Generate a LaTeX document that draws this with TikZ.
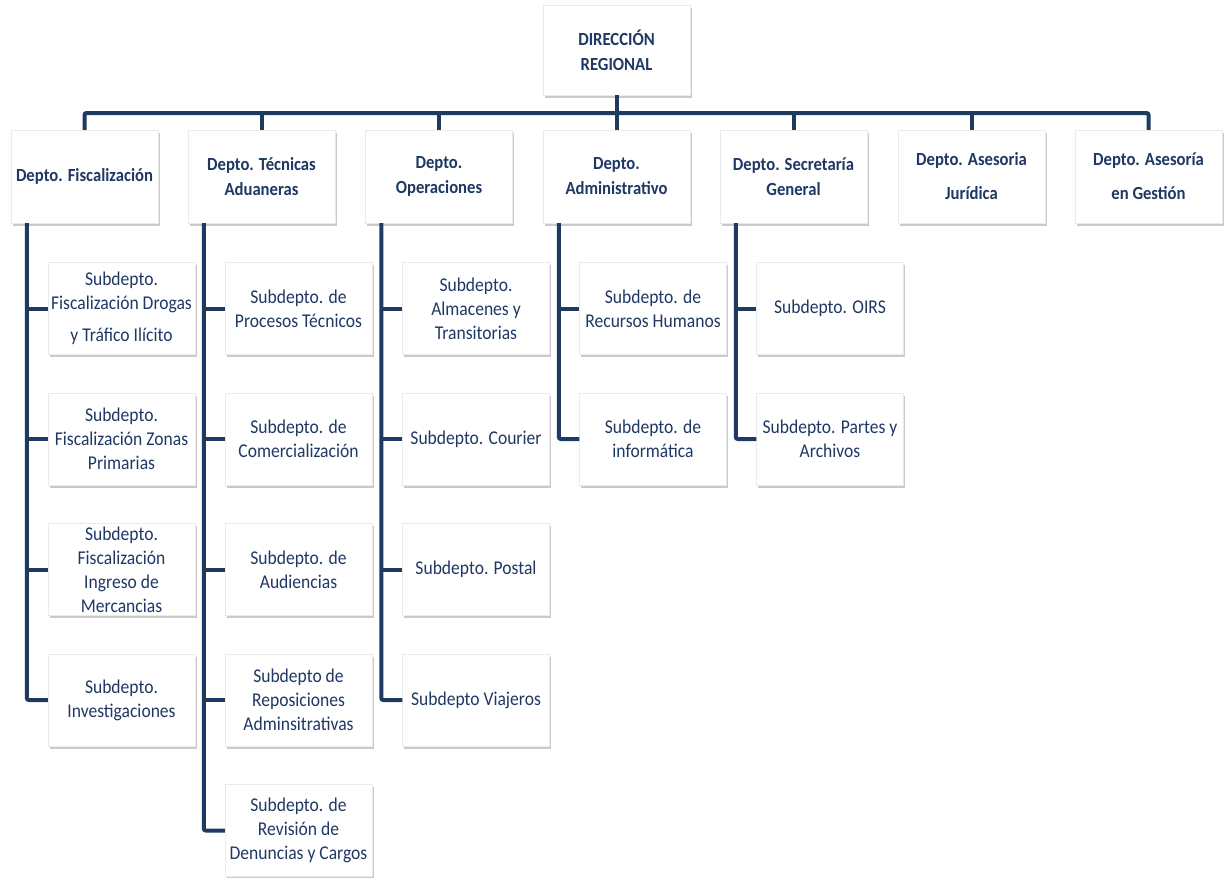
\documentclass[tikz,border=0pt]{standalone}
\usepackage{fontspec}
\setmainfont{Carlito}[FakeStretch=0.9]
\usepackage{tikz}
\usetikzlibrary{shadows}
\definecolor{orgblue}{HTML}{1F3864}
\definecolor{linkblue}{HTML}{1F3A60}

\tikzset{
  unitbox/.style={draw=black!8, fill=white, text=orgblue, minimum width=147pt, align=center, inner sep=1pt,
    drop shadow={shadow xshift=1.5pt, shadow yshift=-2.5pt, opacity=0.35, fill=black!60}},
  deptbox/.style={unitbox, minimum height=93pt, font=\fontsize{18.5}{25}\selectfont\bfseries},
  subbox/.style={unitbox, minimum height=92pt, font=\fontsize{19.5}{24}\selectfont},
  link/.style={draw=linkblue, line width=4pt, rounded corners=2pt}
}

\begin{document}
\begin{tikzpicture}[x=1pt,y=-1pt]
\useasboundingbox (0,0) rectangle (1227,878);
% direccion y departamentos
  \node[deptbox, minimum height=90pt] (dir) at (616.5,50) {DIRECCIÓN\\REGIONAL};
  \node[deptbox] (fisc) at (84.5,176.5) {Depto. Fiscalización};
  \node[deptbox] (tec) at (261.5,176.5) {Depto. Técnicas\\Aduaneras};
  \node[deptbox] (oper) at (439,176.5) {Depto.\\Operaciones};
  \node[deptbox] (adm) at (616.5,176.5) {Depto.\\Administrativo};
  \node[deptbox] (secr) at (793.5,176.5) {Depto. Secretaría\\General};
  \node[deptbox] (jur) at (971.5,176.5) {Depto. Asesoria\\[9pt]Jurídica};
  \node[deptbox] (gest) at (1148.5,176.5) {Depto. Asesoría\\[9pt]en Gestión};
% subdeptos fiscalizacion
  \node[subbox] (f1) at (121.5,308.5) {Subdepto.\\Fiscalización Drogas\\[8pt]y Tráfico Ilícito};
  \node[subbox] (f2) at (121.5,439) {Subdepto.\\Fiscalización Zonas\\Primarias};
  \node[subbox] (f3) at (121.5,569.5) {Subdepto.\\Fiscalización\\Ingreso de\\Mercancias};
  \node[subbox] (f4) at (121.5,700) {Subdepto.\\Investigaciones};
% subdeptos tecnicas aduaneras
  \node[subbox] (t1) at (298.5,308.5) {Subdepto. de\\Procesos Técnicos};
  \node[subbox] (t2) at (298.5,439) {Subdepto. de\\Comercialización};
  \node[subbox] (t3) at (298.5,569.5) {Subdepto. de\\Audiencias};
  \node[subbox] (t4) at (298.5,700) {Subdepto de\\Reposiciones\\Adminsitrativas};
  \node[subbox] (t5) at (298.5,830.5) {Subdepto. de\\Revisión de\\Denuncias y Cargos};
% subdeptos operaciones
  \node[subbox] (o1) at (476,308.5) {Subdepto.\\Almacenes y\\Transitorias};
  \node[subbox] (o2) at (476,439) {Subdepto. Courier};
  \node[subbox] (o3) at (476,569.5) {Subdepto. Postal};
  \node[subbox] (o4) at (476,700) {Subdepto Viajeros};
% subdeptos administrativo y secretaria
  \node[subbox] (a1) at (653,308.5) {Subdepto. de\\Recursos Humanos};
  \node[subbox] (a2) at (653,439) {Subdepto. de\\informática};
  \node[subbox] (s1) at (830,308.5) {Subdepto. OIRS};
  \node[subbox] (s2) at (830,439) {Subdepto. Partes y\\Archivos};
% conectores
  \coordinate (bar) at (616.5,113);
  \draw[link] (fisc.north) |- (bar) -| (gest.north);
  \draw[link] (dir.south) -- (adm.north);
  \draw[link] (tec.north) -- (tec.north |- bar);
  \draw[link] (oper.north) -- (oper.north |- bar);
  \draw[link] (secr.north) -- (secr.north |- bar);
  \draw[link] (jur.north) -- (jur.north |- bar);
  \coordinate (fisctrunk) at ([xshift=16pt]fisc.south west);
  \coordinate (tectrunk) at ([xshift=16pt]tec.south west);
  \coordinate (opertrunk) at ([xshift=16pt]oper.south west);
  \coordinate (admtrunk) at ([xshift=16pt]adm.south west);
  \coordinate (secrtrunk) at ([xshift=16pt]secr.south west);
  \draw[link] (fisctrunk) |- (f4.west);
  \draw[link] (f1.west) -- (f1.west -| fisctrunk);
  \draw[link] (f2.west) -- (f2.west -| fisctrunk);
  \draw[link] (f3.west) -- (f3.west -| fisctrunk);
  \draw[link] (tectrunk) |- (t5.west);
  \draw[link] (t1.west) -- (t1.west -| tectrunk);
  \draw[link] (t2.west) -- (t2.west -| tectrunk);
  \draw[link] (t3.west) -- (t3.west -| tectrunk);
  \draw[link] (t4.west) -- (t4.west -| tectrunk);
  \draw[link] (opertrunk) |- (o4.west);
  \draw[link] (o1.west) -- (o1.west -| opertrunk);
  \draw[link] (o2.west) -- (o2.west -| opertrunk);
  \draw[link] (o3.west) -- (o3.west -| opertrunk);
  \draw[link] (admtrunk) |- (a2.west);
  \draw[link] (a1.west) -- (a1.west -| admtrunk);
  \draw[link] (secrtrunk) |- (s2.west);
  \draw[link] (s1.west) -- (s1.west -| secrtrunk);
\end{tikzpicture}
\end{document}
